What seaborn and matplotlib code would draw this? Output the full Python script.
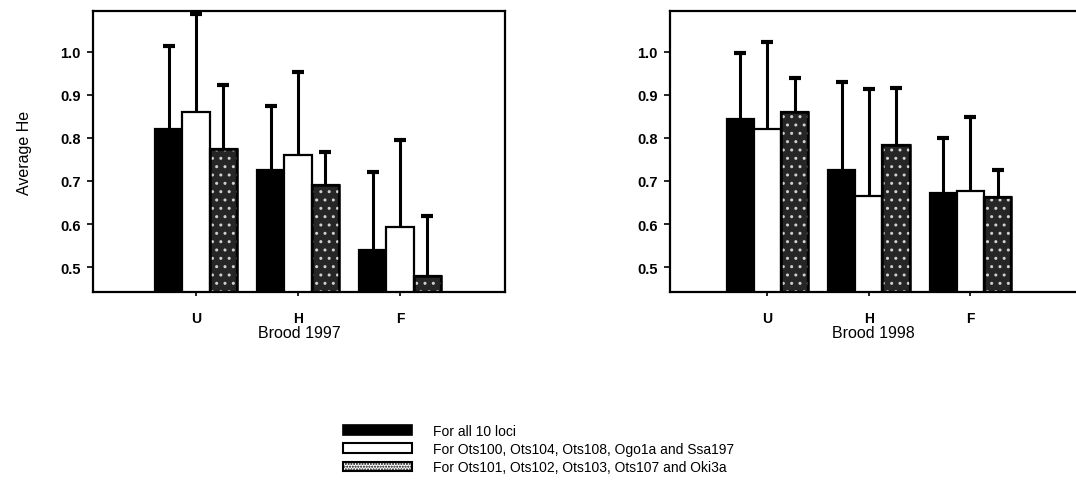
import numpy as np
import pandas as pd
import matplotlib
matplotlib.use("Agg")
import matplotlib.pyplot as plt
import seaborn as sns
from matplotlib.patches import Patch, Rectangle

# ---- data ----
groups = ["U", "H", "F"]
series = ["For all 10 loci",
          "For Ots100, Ots104, Ots108, Ogo1a and Ssa197",
          "For Ots101, Ots102, Ots103, Ots107 and Oki3a"]

mean_1997_all = [0.821, 0.726, 0.540]
mean_1997_a = [0.860, 0.760, 0.594]
mean_1997_b = [0.774, 0.691, 0.480]
sd_1997_all = [0.192, 0.149, 0.180]
sd_1997_a = [0.227, 0.193, 0.202]
sd_1997_b = [0.148, 0.076, 0.139]

mean_1998_all = [0.843, 0.726, 0.671]
mean_1998_a = [0.821, 0.666, 0.676]
mean_1998_b = [0.860, 0.784, 0.663]
sd_1998_all = [0.155, 0.205, 0.128]
sd_1998_a = [0.202, 0.248, 0.172]
sd_1998_b = [0.080, 0.132, 0.063]

panel_titles = ["Brood 1997", "Brood 1998"]
y_ticks = [0.5, 0.6, 0.7, 0.8, 0.9, 1.0]

def frame(means, sds):
    rows = []
    for s, m_list, sd_list in zip(series, means, sds):
        for g, m, sd in zip(groups, m_list, sd_list):
            rows.append({"group": g, "series": s, "He": m, "sd": sd})
    return pd.DataFrame(rows)

df97 = frame([mean_1997_all, mean_1997_a, mean_1997_b], [sd_1997_all, sd_1997_a, sd_1997_b])
df98 = frame([mean_1998_all, mean_1998_a, mean_1998_b], [sd_1998_all, sd_1998_a, sd_1998_b])

sns.set_theme(style="ticks")
plt.rcParams["font.family"] = ["Liberation Sans", "DejaVu Sans"]
plt.rcParams["hatch.linewidth"] = 1.0
for key in ["text.color", "axes.labelcolor", "xtick.color", "ytick.color", "axes.edgecolor"]:
    plt.rcParams[key] = "black"

W, H = 1076, 485
fig = plt.figure(figsize=(W / 100, H / 100), dpi=100)
ax1 = fig.add_axes([93 / W, 1 - 293 / H, 412 / W, 281 / H])
ax2 = fig.add_axes([670 / W, 1 - 293 / H, 406 / W, 281 / H])

face = ["black", "white", "#262626"]
palette = dict(zip(series, face))

def draw(ax, df, title, xlim, show_ylabel, right_spine):
    sns.barplot(data=df, x="group", y="He", hue="series", order=groups,
                hue_order=series, palette=palette, errorbar=None, width=0.8,
                gap=0, edgecolor="black", linewidth=1.6, saturation=1,
                legend=False, ax=ax)
    bar_conts = list(ax.containers)
    for k, cont in enumerate(bar_conts):
        sub = df[df["series"] == series[k]].set_index("group").loc[groups]
        xs = [b.get_x() + b.get_width() / 2 for b in cont]
        ys = [b.get_height() for b in cont]
        eb = ax.errorbar(xs, ys, yerr=[np.zeros(len(xs)), sub["sd"].values],
                         fmt="none", ecolor="black", elinewidth=2.2, capsize=4.5,
                         capthick=3, zorder=1)
        caps = eb[1]
        if len(caps) == 2:
            caps[0].set_visible(False)
        if k == 2:
            for b in cont:
                ax.add_patch(Rectangle((b.get_x(), b.get_y()), b.get_width(),
                                       b.get_height(), fill=False, hatch="..",
                                       edgecolor="#d0d0d0", linewidth=0,
                                       zorder=b.get_zorder() + 0.1))
                ax.add_patch(Rectangle((b.get_x(), b.get_y()), b.get_width(),
                                       b.get_height(), fill=False,
                                       edgecolor="black", linewidth=1.8,
                                       zorder=b.get_zorder() + 0.2))
    ax.set_ylim(0.442, 1.095)
    ax.set_xlim(*xlim)
    ax.set_yticks(y_ticks)
    ax.set_yticklabels([f"{v:.1f}" for v in y_ticks], fontsize=10.5, fontweight="bold")
    ax.set_xticks(range(len(groups)))
    ax.set_xticklabels(groups, fontsize=10, fontweight="bold")
    ax.tick_params(axis="y", length=4, width=1.2, pad=5, direction="out")
    ax.tick_params(axis="x", length=3, width=1.2, pad=11, direction="out")
    ax.set_xlabel(title, fontsize=11.5, labelpad=0)
    if show_ylabel:
        ax.set_ylabel("Average He", fontsize=11.5, labelpad=20)
    else:
        ax.set_ylabel("")
    for name, sp in ax.spines.items():
        sp.set_linewidth(1.6)
        sp.set_color("black")
        sp.set_visible(True)
    if not right_spine:
        ax.spines["right"].set_visible(False)

draw(ax1, df97, panel_titles[0], (-1.01, 3.03), True, True)
draw(ax2, df98, panel_titles[1], (-0.96, 3.04), False, False)

handles = [Patch(facecolor="black", edgecolor="black", linewidth=1.2),
           Patch(facecolor="white", edgecolor="black", linewidth=1.5),
           Patch(facecolor="white", edgecolor="black", linewidth=1.5, hatch="......")]
fig.legend(handles, series, loc="upper left",
           bbox_to_anchor=(343 / W, 1 - 425 / H), bbox_transform=fig.transFigure,
           frameon=False, fontsize=10, handlelength=5.0, handleheight=0.7,
           handletextpad=1.5, labelspacing=0.3, borderpad=0, borderaxespad=0)

fig.savefig("out.png", dpi=100)
